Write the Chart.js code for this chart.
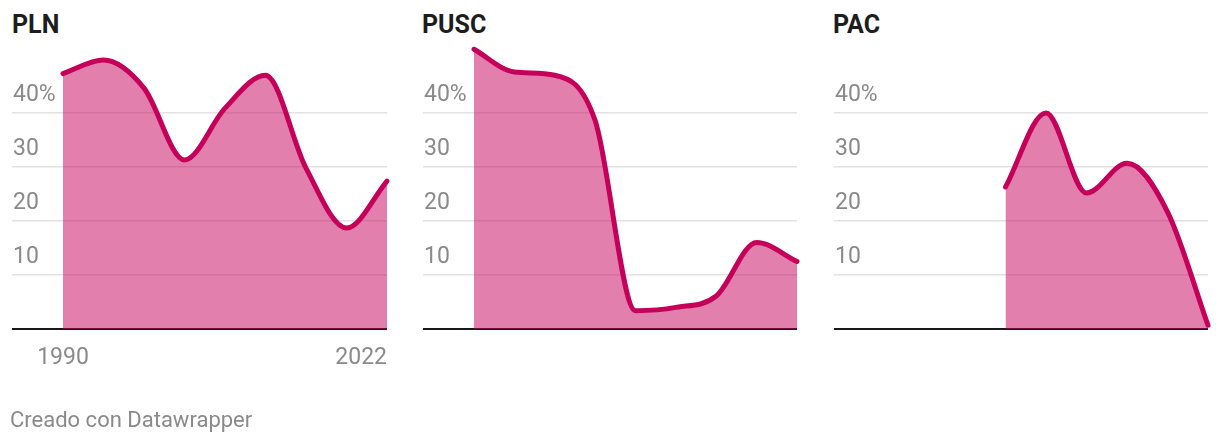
<!DOCTYPE html>
<html>
<head>
<meta charset="utf-8">
<script src="https://cdn.jsdelivr.net/npm/chart.js@4.4.0/dist/chart.umd.min.js"></script>
<style>
html,body{margin:0;padding:0;background:#fff;width:1220px;height:446px;overflow:hidden;font-family:Roboto,sans-serif}
canvas{position:absolute;left:0;top:0}
.title{position:absolute;top:12px;font:bold 25px/25px Roboto,sans-serif;color:#1d1d1d}
.footer{position:absolute;left:10px;top:409px;font:22px/22px Roboto,sans-serif;color:#8a8a8a}
</style>
</head>
<body>
<div class="title" style="left:12px">PLN</div>
<div class="title" style="left:422px">PUSC</div>
<div class="title" style="left:833px">PAC</div>
<canvas id="c0" width="1220" height="446"></canvas>
<canvas id="c1" width="1220" height="446"></canvas>
<canvas id="c2" width="1220" height="446"></canvas>
<div class="footer">Creado con Datawrapper</div>
<script>
/* datos: % de votos por elección presidencial */
const years = [1990,1994,1998,2002,2006,2010,2014,2018,2022];
const pln  = [47.3,49.8,44.6,31.3,40.9,47.0,29.8,18.7,27.4];
const pusc = [51.8,47.6,47.0,38.6,3.4,4.0,6.1,16.0,12.5];
const pac  = [null,null,null,26.3,40.0,25.2,30.7,21.7,0.7];
const yTicks = [0,10,20,30,40];
const xLabels = [1990,2022];

const LINE = 'rgb(197,0,90)';
const FILL = 'rgba(197,0,90,0.5)';

/* layout of the three small multiples (pixels) */
const panels = [
  {id:'c0', left:12,  dataLeft:63,  right:387,  values:pln,  showYears:true},
  {id:'c1', left:423, dataLeft:474, right:797,  values:pusc, showYears:false},
  {id:'c2', left:834, dataLeft:884, right:1208, values:pac,  showYears:false}
];

const yearPlugin = {
  id:'yearLabels',
  afterDraw(chart, args, opts){
    if(!opts.show) return;
    const ctx = chart.ctx, xs = chart.scales.x;
    ctx.save();
    ctx.font = '23px Roboto, sans-serif';
    ctx.fillStyle = '#8a8a8a';
    ctx.textBaseline = 'alphabetic';
    xLabels.forEach((yr,i)=>{
      ctx.textAlign = i===xLabels.length-1 ? 'right' : 'center';
      ctx.fillText(String(yr), xs.getPixelForValue(yr), 364);
    });
    ctx.restore();
  }
};

panels.forEach(p=>{
  const ppy = (p.right - p.dataLeft) / (years[years.length-1] - years[0]);
  const xMin = years[0] - (p.dataLeft - p.left) / ppy;
  new Chart(document.getElementById(p.id), {
    type:'line',
    data:{datasets:[{
      data: years.map((y,i)=>({x:y, y:p.values[i]})),
      borderColor: LINE,
      backgroundColor: FILL,
      fill:'origin',
      borderWidth:5,
      pointRadius:0,
      cubicInterpolationMode:'monotone',
      borderCapStyle:'round',
      clip:false
    }]},
    options:{
      responsive:false,
      animation:false,
      events:[],
      layout:{padding:{left:p.left, right:1220-p.right, top:32, bottom:446-329}},
      plugins:{legend:{display:false}, tooltip:{enabled:false}, yearLabels:{show:p.showYears}},
      scales:{
        x:{type:'linear', min:xMin, max:years[years.length-1], display:false},
        y:{
          min:0, max:55,
          afterBuildTicks: s=>{ s.ticks = yTicks.map(v=>({value:v})); },
          afterFit: s=>{ s.width = 0; },
          border:{display:false},
          grid:{drawTicks:false,
                color: c=> c.tick && c.tick.value===0 ? '#1a1a1a' : '#e2e2e2',
                lineWidth: c=> c.tick && c.tick.value===0 ? 2 : 1.5},
          ticks:{mirror:true, padding:1, labelOffset:-18, color:'#8a8a8a',
                 font:{family:'Roboto', size:23},
                 callback: v=> v===0 ? '' : (v===40 ? '40%' : String(v))}
        }
      }
    },
    plugins:[yearPlugin]
  });
});
</script>
</body>
</html>
